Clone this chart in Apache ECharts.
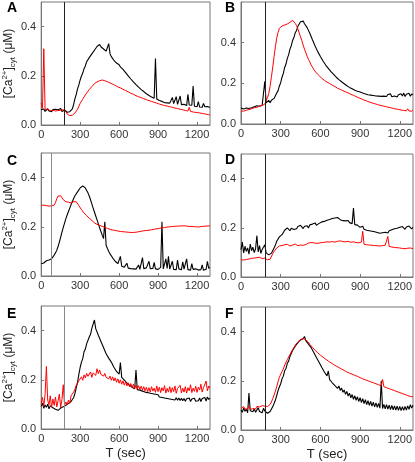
<!DOCTYPE html>
<html><head><meta charset="utf-8">
<script src="https://cdn.jsdelivr.net/npm/echarts@6/dist/echarts.min.js"></script>
<style>html,body{margin:0;padding:0;background:#fff}#c{width:415px;height:462px}</style>
</head><body><div id="c"></div>
<script>
// sample times (sec)
const TIME = [0,10,20,30,40,50,60,70,80,90,100,110,120,130,140,150,160,170,180,190,
200,210,220,230,240,250,260,270,280,290,300,310,320,330,340,350,360,370,380,390,
400,410,420,430,440,450,460,470,480,490,500,510,520,530,540,550,560,570,580,590,
600,610,620,630,640,650,660,670,680,690,700,710,720,730,740,750,760,770,780,790,
800,810,820,830,840,850,860,870,880,890,900,910,920,930,940,950,960,970,980,990,
1000,1010,1020,1030,1040,1050,1060,1070,1080,1090,1100,1110,1120,1130,1140,1150,1160,1170,1180,1190,
1200,1210,1220,1230,1240,1250,1260,1270,1280,1290,1300];

const A_BLACK = [0.062,0.058,0.065,0.055,0.060,0.066,0.057,0.061,0.054,0.063,
0.059,0.064,0.056,0.062,0.058,0.067,0.055,0.060,0.061,0.057,
0.052,0.049,0.054,0.050,0.066,0.084,0.107,0.124,0.147,0.163,
0.183,0.199,0.211,0.229,0.240,0.257,0.263,0.274,0.277,0.289,
0.293,0.304,0.308,0.319,0.317,0.327,0.318,0.320,0.309,0.310,
0.300,0.299,0.331,0.290,0.278,0.274,0.263,0.262,0.252,0.250,
0.245,0.236,0.238,0.226,0.224,0.213,0.210,0.200,0.197,0.187,
0.185,0.175,0.173,0.164,0.163,0.154,0.155,0.144,0.147,0.136,
0.138,0.127,0.130,0.120,0.123,0.114,0.118,0.109,0.270,0.106,
0.108,0.100,0.104,0.096,0.101,0.091,0.099,0.090,0.094,0.089,
0.088,0.112,0.087,0.089,0.115,0.084,0.086,0.118,0.083,0.082,
0.084,0.080,0.079,0.125,0.081,0.078,0.080,0.158,0.076,0.082,
0.074,0.095,0.073,0.076,0.072,0.088,0.074,0.071,0.075,0.073,
0.071];
const A_RED = [0.090,0.068,0.310,0.063,0.059,0.065,0.061,0.058,0.064,0.060,
0.062,0.057,0.063,0.059,0.066,0.060,0.056,0.062,0.058,0.055,
0.045,0.041,0.038,0.042,0.040,0.044,0.049,0.056,0.064,0.072,
0.088,0.096,0.105,0.114,0.122,0.130,0.138,0.144,0.150,0.156,
0.162,0.168,0.171,0.175,0.177,0.180,0.181,0.183,0.181,0.180,
0.178,0.176,0.172,0.171,0.167,0.166,0.162,0.161,0.157,0.155,
0.152,0.151,0.146,0.145,0.141,0.140,0.136,0.135,0.131,0.129,
0.127,0.125,0.120,0.119,0.116,0.115,0.112,0.111,0.108,0.107,
0.104,0.103,0.099,0.099,0.096,0.096,0.093,0.092,0.089,0.089,
0.086,0.085,0.083,0.082,0.080,0.079,0.077,0.077,0.075,0.074,
0.072,0.072,0.069,0.069,0.067,0.067,0.064,0.064,0.062,0.062,
0.059,0.059,0.057,0.057,0.072,0.055,0.053,0.053,0.051,0.051,
0.050,0.050,0.048,0.048,0.046,0.046,0.044,0.044,0.042,0.042,
0.040];

const B_BLACK = [0.078,0.086,0.074,0.082,0.079,0.088,0.076,0.084,0.080,0.077,
0.085,0.079,0.090,0.083,0.087,0.081,0.092,0.086,0.210,0.104,
0.108,0.116,0.105,0.117,0.114,0.126,0.133,0.152,0.163,0.187,
0.203,0.230,0.249,0.278,0.295,0.323,0.340,0.368,0.385,0.411,
0.425,0.449,0.460,0.481,0.487,0.503,0.502,0.506,0.493,0.491,
0.474,0.468,0.446,0.437,0.414,0.405,0.384,0.375,0.356,0.351,
0.332,0.328,0.310,0.306,0.290,0.289,0.274,0.273,0.258,0.258,
0.244,0.244,0.230,0.231,0.218,0.220,0.208,0.210,0.198,0.200,
0.188,0.191,0.180,0.183,0.173,0.176,0.166,0.170,0.161,0.166,
0.157,0.161,0.152,0.157,0.148,0.153,0.144,0.150,0.142,0.149,
0.140,0.147,0.138,0.146,0.137,0.145,0.136,0.144,0.137,0.146,
0.135,0.145,0.137,0.148,0.134,0.143,0.138,0.147,0.133,0.144,
0.136,0.149,0.138,0.152,0.135,0.146,0.140,0.151,0.137,0.148,
0.143];
const B_RED = [0.064,0.069,0.063,0.071,0.068,0.075,0.071,0.078,0.075,0.082,
0.080,0.087,0.082,0.090,0.088,0.094,0.091,0.099,0.098,0.106,
0.130,0.150,0.185,0.232,0.280,0.332,0.380,0.422,0.450,0.470,
0.478,0.482,0.484,0.487,0.489,0.492,0.496,0.500,0.504,0.510,
0.505,0.495,0.484,0.467,0.448,0.428,0.410,0.388,0.368,0.350,
0.333,0.318,0.305,0.290,0.280,0.268,0.262,0.251,0.247,0.238,
0.235,0.225,0.224,0.215,0.214,0.206,0.207,0.199,0.199,0.191,
0.192,0.184,0.184,0.176,0.177,0.170,0.171,0.164,0.166,0.158,
0.160,0.153,0.155,0.146,0.149,0.141,0.145,0.135,0.139,0.129,
0.132,0.124,0.128,0.118,0.124,0.113,0.120,0.108,0.116,0.104,
0.110,0.100,0.106,0.096,0.102,0.092,0.099,0.089,0.096,0.086,
0.093,0.083,0.090,0.080,0.088,0.077,0.086,0.074,0.083,0.072,
0.080,0.069,0.078,0.067,0.076,0.065,0.075,0.064,0.073,0.063,
0.068];

const C_BLACK = [0.050,0.056,0.053,0.061,0.062,0.067,0.065,0.071,0.070,0.078,
0.085,0.094,0.105,0.120,0.138,0.158,0.178,0.198,0.215,0.233,
0.248,0.262,0.276,0.290,0.303,0.315,0.326,0.334,0.342,0.350,
0.358,0.362,0.366,0.364,0.358,0.348,0.338,0.325,0.310,0.293,
0.276,0.260,0.244,0.228,0.212,0.196,0.181,0.166,0.152,0.220,
0.125,0.112,0.100,0.090,0.082,0.074,0.067,0.060,0.055,0.050,
0.046,0.080,0.040,0.038,0.036,0.034,0.052,0.032,0.031,0.030,
0.033,0.029,0.034,0.028,0.031,0.045,0.027,0.032,0.075,0.030,
0.028,0.033,0.027,0.060,0.030,0.026,0.031,0.055,0.029,0.032,
0.027,0.030,0.035,0.220,0.029,0.026,0.070,0.031,0.080,0.028,
0.032,0.060,0.027,0.030,0.026,0.065,0.029,0.031,0.025,0.058,
0.028,0.032,0.070,0.026,0.030,0.024,0.050,0.027,0.023,0.029,
0.025,0.024,0.030,0.026,0.045,0.023,0.028,0.027,0.060,0.031,
0.035];
const C_RED = [0.287,0.284,0.288,0.285,0.286,0.289,0.284,0.287,0.285,0.286,
0.288,0.298,0.315,0.325,0.328,0.326,0.318,0.310,0.305,0.302,
0.303,0.300,0.298,0.297,0.299,0.302,0.303,0.302,0.295,0.286,
0.278,0.270,0.262,0.256,0.250,0.245,0.240,0.235,0.230,0.226,
0.220,0.216,0.213,0.210,0.208,0.206,0.204,0.202,0.200,0.198,
0.198,0.193,0.195,0.190,0.192,0.187,0.190,0.185,0.188,0.183,
0.186,0.181,0.184,0.180,0.183,0.179,0.182,0.178,0.181,0.177,
0.181,0.177,0.182,0.178,0.183,0.180,0.185,0.182,0.187,0.184,
0.188,0.185,0.190,0.186,0.191,0.188,0.193,0.190,0.195,0.192,
0.197,0.194,0.199,0.196,0.201,0.197,0.202,0.199,0.204,0.200,
0.205,0.201,0.206,0.202,0.207,0.203,0.207,0.203,0.208,0.204,
0.207,0.204,0.207,0.202,0.209,0.201,0.206,0.201,0.204,0.200,
0.204,0.199,0.204,0.201,0.204,0.202,0.205,0.203,0.206,0.203,
0.205];

const D_BLACK = [0.111,0.142,0.098,0.125,0.104,0.118,0.093,0.134,0.107,0.121,
0.099,0.115,0.168,0.102,0.128,0.096,0.112,0.105,0.131,0.098,
0.094,0.090,0.086,0.097,0.105,0.118,0.130,0.145,0.152,0.163,
0.168,0.172,0.180,0.190,0.186,0.200,0.195,0.188,0.198,0.204,
0.193,0.201,0.196,0.205,0.198,0.210,0.203,0.197,0.206,0.202,
0.208,0.199,0.212,0.204,0.215,0.207,0.220,0.210,0.214,0.218,
0.213,0.224,0.217,0.226,0.222,0.231,0.225,0.234,0.229,0.238,
0.233,0.240,0.236,0.242,0.238,0.233,0.237,0.229,0.235,0.228,
0.226,0.230,0.221,0.225,0.217,0.280,0.213,0.208,0.211,0.204,
0.202,0.198,0.206,0.194,0.199,0.190,0.196,0.188,0.193,0.186,
0.190,0.184,0.188,0.181,0.186,0.178,0.183,0.180,0.176,0.182,
0.185,0.179,0.188,0.184,0.192,0.188,0.196,0.191,0.198,0.194,
0.202,0.196,0.205,0.199,0.194,0.203,0.198,0.207,0.200,0.196,
0.202];
const D_RED = [0.070,0.072,0.069,0.074,0.071,0.075,0.073,0.070,0.076,0.074,
0.077,0.075,0.079,0.076,0.080,0.078,0.075,0.079,0.077,0.074,
0.070,0.068,0.072,0.080,0.095,0.104,0.112,0.118,0.122,0.126,
0.125,0.128,0.124,0.131,0.127,0.133,0.129,0.126,0.132,0.130,
0.128,0.134,0.131,0.127,0.135,0.130,0.133,0.129,0.136,0.132,
0.134,0.138,0.133,0.140,0.136,0.139,0.142,0.137,0.141,0.138,
0.143,0.140,0.145,0.141,0.146,0.143,0.147,0.142,0.148,0.144,
0.146,0.142,0.149,0.145,0.143,0.147,0.141,0.144,0.139,0.143,
0.140,0.145,0.137,0.141,0.138,0.143,0.136,0.140,0.134,0.139,
0.137,0.142,0.186,0.133,0.138,0.131,0.135,0.130,0.134,0.129,
0.133,0.128,0.132,0.127,0.131,0.126,0.130,0.128,0.125,0.129,
0.127,0.165,0.124,0.128,0.122,0.126,0.120,0.124,0.119,0.122,
0.118,0.121,0.116,0.120,0.115,0.119,0.117,0.114,0.118,0.115,
0.115];

const E_BLACK = [0.092,0.105,0.084,0.098,0.088,0.101,0.082,0.095,0.090,0.086,
0.094,0.080,0.088,0.076,0.072,0.085,0.078,0.090,0.083,0.096,
0.092,0.104,0.098,0.112,0.118,0.128,0.145,0.168,0.190,0.222,
0.250,0.272,0.286,0.314,0.325,0.346,0.352,0.374,0.385,0.409,
0.415,0.443,0.408,0.402,0.381,0.376,0.356,0.352,0.331,0.326,
0.306,0.304,0.288,0.288,0.272,0.269,0.251,0.251,0.234,0.235,
0.223,0.270,0.210,0.204,0.199,0.193,0.187,0.182,0.178,0.173,
0.170,0.167,0.164,0.240,0.160,0.155,0.158,0.150,0.154,0.147,
0.150,0.144,0.148,0.140,0.145,0.138,0.143,0.135,0.141,0.133,
0.139,0.130,0.137,0.128,0.135,0.126,0.133,0.124,0.131,0.122,
0.130,0.120,0.128,0.118,0.127,0.117,0.126,0.116,0.125,0.115,
0.124,0.113,0.123,0.115,0.126,0.112,0.122,0.116,0.125,0.113,
0.121,0.115,0.126,0.112,0.124,0.118,0.128,0.114,0.130,0.120,
0.126];
const E_RED = [0.105,0.128,0.092,0.140,0.254,0.118,0.098,0.135,0.088,0.122,
0.096,0.130,0.090,0.115,0.142,0.087,0.120,0.180,0.095,0.110,
0.099,0.118,0.104,0.135,0.128,0.150,0.162,0.178,0.185,0.196,
0.200,0.212,0.198,0.220,0.208,0.226,0.214,0.218,0.232,0.210,
0.228,0.236,0.218,0.245,0.225,0.240,0.222,0.230,0.215,0.226,
0.210,0.218,0.204,0.215,0.198,0.212,0.195,0.208,0.190,0.204,
0.186,0.200,0.182,0.196,0.178,0.192,0.175,0.188,0.172,0.185,
0.168,0.182,0.165,0.178,0.162,0.176,0.160,0.174,0.158,0.172,
0.155,0.170,0.152,0.168,0.150,0.172,0.154,0.166,0.149,0.175,
0.152,0.170,0.148,0.168,0.155,0.176,0.146,0.165,0.150,0.172,
0.148,0.168,0.152,0.175,0.145,0.164,0.156,0.178,0.147,0.166,
0.150,0.172,0.146,0.168,0.155,0.180,0.148,0.166,0.153,0.174,
0.149,0.170,0.158,0.182,0.150,0.168,0.160,0.195,0.155,0.175,
0.165];

const F_BLACK = [0.081,0.072,0.090,0.076,0.085,0.070,0.150,0.078,0.083,0.074,
0.086,0.072,0.080,0.091,0.075,0.083,0.070,0.088,0.077,0.082,
0.068,0.066,0.075,0.085,0.095,0.108,0.122,0.140,0.160,0.175,
0.188,0.208,0.219,0.241,0.250,0.271,0.280,0.299,0.305,0.323,
0.327,0.341,0.343,0.355,0.355,0.366,0.363,0.371,0.380,0.363,
0.362,0.349,0.347,0.335,0.330,0.315,0.309,0.295,0.289,0.275,
0.275,0.255,0.257,0.236,0.238,0.220,0.240,0.205,0.209,0.192,
0.198,0.180,0.188,0.169,0.179,0.161,0.171,0.153,0.163,0.145,
0.157,0.138,0.150,0.131,0.144,0.125,0.139,0.121,0.135,0.116,
0.131,0.112,0.127,0.107,0.123,0.103,0.119,0.100,0.116,0.097,
0.113,0.094,0.110,0.092,0.108,0.089,0.200,0.087,0.104,0.086,
0.103,0.085,0.101,0.083,0.100,0.082,0.098,0.081,0.097,0.080,
0.096,0.079,0.095,0.080,0.096,0.081,0.098,0.084,0.103,0.089,
0.101];
const F_RED = [0.088,0.082,0.095,0.085,0.092,0.086,0.098,0.083,0.090,0.087,
0.092,0.085,0.096,0.088,0.094,0.090,0.099,0.093,0.097,0.094,
0.095,0.098,0.104,0.114,0.128,0.142,0.158,0.176,0.196,0.214,
0.220,0.238,0.248,0.264,0.272,0.286,0.293,0.307,0.313,0.327,
0.333,0.344,0.348,0.358,0.359,0.368,0.366,0.372,0.365,0.366,
0.358,0.357,0.348,0.346,0.336,0.334,0.324,0.322,0.314,0.313,
0.304,0.304,0.296,0.296,0.288,0.288,0.280,0.280,0.273,0.273,
0.266,0.267,0.260,0.261,0.254,0.255,0.248,0.249,0.242,0.243,
0.236,0.238,0.231,0.233,0.227,0.229,0.222,0.224,0.218,0.219,
0.213,0.215,0.208,0.210,0.204,0.206,0.200,0.202,0.196,0.198,
0.192,0.194,0.188,0.190,0.184,0.186,0.180,0.205,0.176,0.178,
0.172,0.174,0.168,0.170,0.164,0.166,0.160,0.162,0.156,0.158,
0.152,0.154,0.148,0.150,0.144,0.146,0.140,0.142,0.136,0.138,
0.135];

const PANEL_LABELS = ['A','B','C','D','E','F'];
const BLACK_SERIES = [A_BLACK, B_BLACK, C_BLACK, D_BLACK, E_BLACK, F_BLACK];
const RED_SERIES = [A_RED, B_RED, C_RED, D_RED, E_RED, F_RED];
const Y_MAX = [0.5, 0.6, 0.5, 0.5, 0.5, 0.5];
const STIM_TIME = [180, 180, 75, 180, 180, 180];
const X_MAX = 1300, X_STEP = 300, Y_STEP = 0.2;
const Y_TITLE = '[Ca{sup|2+}]{sub|cyt} (μM)';
const X_TITLE = 'T (sec)';

// layout (pixels)
const GRIDS = [
  {left:40, top:2, width:170, height:123},
  {left:241, top:2, width:173, height:122},
  {left:40, top:153, width:170, height:123},
  {left:241, top:154, width:173, height:123},
  {left:40, top:306, width:170, height:123},
  {left:241, top:307, width:173, height:123}
];
const LABEL_POS = [[7,1],[225,1],[7,154],[225,153],[7,307],[225,307]];
const STIM_COLOR = ['#222','#222','#888','#222','#888','#222'];

const FONT = 'Arial, "Liberation Sans", sans-serif';
const pairs = (vals) => vals.map((v, i) => [TIME[i], v]).filter(p => p[0] !== undefined);

const chart = echarts.init(document.getElementById('c'), null, {renderer:'canvas'});
const option = {
  animation:false,
  backgroundColor:'#fff',
  title: PANEL_LABELS.map((t,i)=>({text:t, left:LABEL_POS[i][0], top:LABEL_POS[i][1], padding:0,
    textStyle:{fontSize:14, fontWeight:'bold', color:'#000', fontFamily:FONT}})),
  grid: GRIDS.map(g=>Object.assign({show:true, borderColor:'#777', borderWidth:1, backgroundColor:'transparent'}, g)),
  xAxis: GRIDS.map((g,i)=>({
    type:'value', gridIndex:i, min:0, max:X_MAX, interval:X_STEP,
    axisLine:{lineStyle:{color:'#777', width:1}},
    axisTick:{inside:true, length:3, lineStyle:{color:'#777'}},
    axisLabel:{fontSize:11, color:'#333', fontFamily:FONT, margin:4, showMaxLabel:false,
      formatter:(v)=>String(v)},
    splitLine:{show:false},
    name: i>=4 ? X_TITLE : '', nameLocation:'middle', nameGap:18,
    nameTextStyle:{fontSize:13, color:'#222', fontFamily:FONT}
  })),
  yAxis: GRIDS.map((g,i)=>({
    type:'value', gridIndex:i, min:0, max:Y_MAX[i], interval:Y_STEP,
    axisLine:{show:true, lineStyle:{color:'#777', width:1}},
    axisTick:{show:true, inside:true, length:3, lineStyle:{color:'#777'}},
    axisLabel:{fontSize:11, color:'#333', fontFamily:FONT, margin:5, showMaxLabel:false,
      formatter:(v)=>v.toFixed(1)},
    splitLine:{show:false},
    name: i%2===0 ? Y_TITLE : '', nameLocation:'middle', nameGap:24,
    nameTextStyle:{fontSize:12, color:'#222', fontFamily:FONT, lineHeight:16,
      rich:{
        sup:{fontSize:8, lineHeight:16, verticalAlign:'top', color:'#222', fontFamily:FONT},
        sub:{fontSize:8, lineHeight:16, verticalAlign:'bottom', color:'#222', fontFamily:FONT}
      }}
  })),
  series: []
};
GRIDS.forEach((g,i)=>{
  option.series.push({
    type:'line', xAxisIndex:i, yAxisIndex:i, data:pairs(BLACK_SERIES[i]),
    showSymbol:false, symbol:'none', lineStyle:{color:'#000', width:1.1}, z:2,
    markLine:{silent:true, symbol:['none','none'], label:{show:false},
      lineStyle:{color:STIM_COLOR[i], width:1, type:'solid'},
      data:[{xAxis:STIM_TIME[i]}]}
  });
  option.series.push({
    type:'line', xAxisIndex:i, yAxisIndex:i, data:pairs(RED_SERIES[i]),
    showSymbol:false, symbol:'none', lineStyle:{color:'#ff0000', width:1}, z:3
  });
});
chart.setOption(option);
</script>
</body></html>
